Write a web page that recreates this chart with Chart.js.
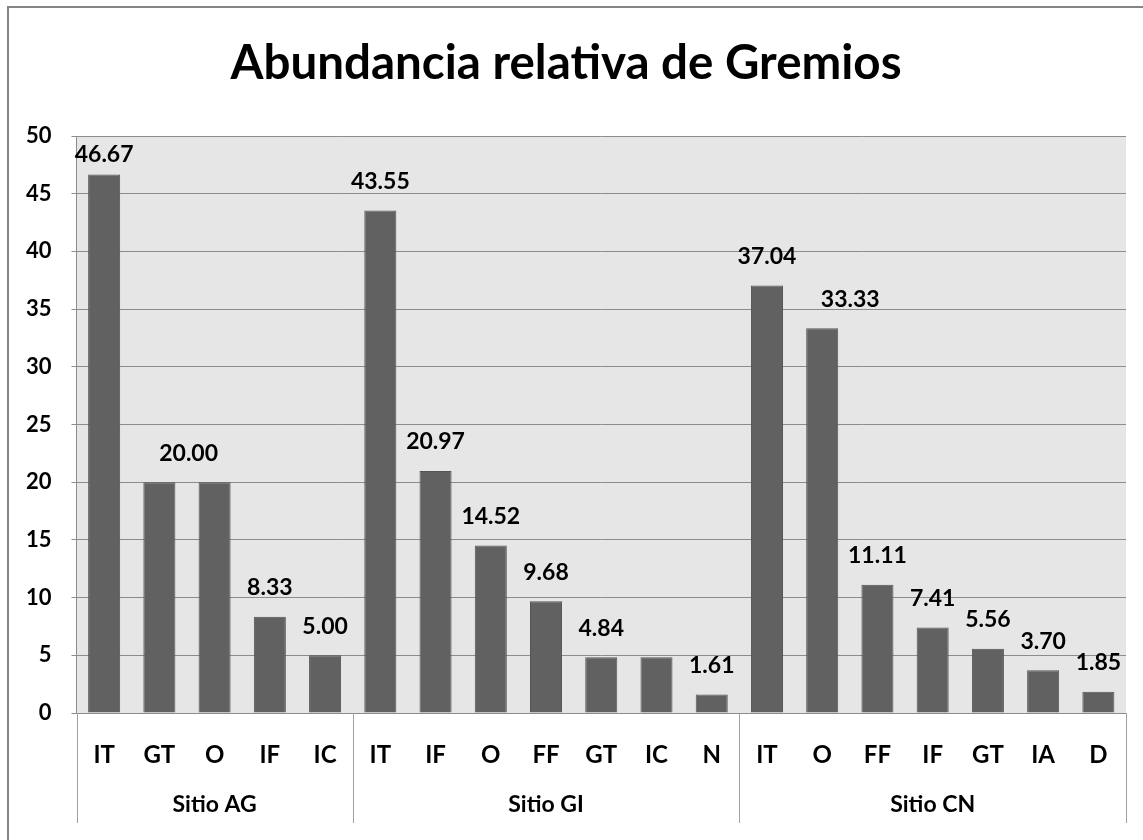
<!DOCTYPE html>
<html>
<head>
<meta charset="utf-8">
<script src="https://cdn.jsdelivr.net/npm/chart.js@4/dist/chart.umd.min.js"></script>
<style>
  html, body { margin: 0; padding: 0; background: #fff; }
</style>
</head>
<body>
<canvas id="gremios" width="1143" height="840"></canvas>
<script>
// DATOS

var gremios = ['IT', 'GT', 'O', 'IF', 'IC',
               'IT', 'IF', 'O', 'FF', 'GT', 'IC', 'N',
               'IT', 'O', 'FF', 'IF', 'GT', 'IA', 'D'];

var abundancia = [46.67, 20.00, 20.00, 8.33, 5.00,
                  43.55, 20.97, 14.52, 9.68, 4.84, 4.84, 1.61,
                  37.04, 33.33, 11.11, 7.41, 5.56, 3.70, 1.85];

var sitios = ['Sitio AG', 'Sitio GI', 'Sitio CN'];
var barrasPorSitio = [5, 7, 7];

var yTicks = [0, 5, 10, 15, 20, 25, 30, 35, 40, 45, 50];

// etiquetas que Excel ocultó o desplazó
var etiquetasOcultas = [1, 10];
var desplazamientoX = { 2: -26, 13: 28 };

var FONT = 'Lato, "Open Sans", sans-serif';

// marco del gráfico y fondo gris del área
var marco = {
    id: 'marco',
    beforeDraw: function (chart) {
        var c = chart.ctx;
        var a = chart.chartArea;
        c.save();
        c.fillStyle = '#fff';
        c.fillRect(0, 0, chart.width, chart.height);
        c.strokeStyle = '#858585';
        c.lineWidth = 2;
        c.strokeRect(8, 7, chart.width + 20, chart.height + 20);
        c.fillStyle = '#e6e6e6';
        c.fillRect(a.left, a.top, a.right - a.left, a.bottom - a.top);
        c.restore();
    }
};

// separadores y nombres de sitios bajo el eje
var grupos = {
    id: 'grupos',
    afterDraw: function (chart) {
        var c = chart.ctx;
        var area = chart.chartArea;
        var step = (area.right - area.left) / gremios.length;
        c.save();
        c.strokeStyle = '#a0a0a0';
        c.lineWidth = 1;
        c.fillStyle = '#000';
        c.font = 'bold 23px ' + FONT;
        c.textAlign = 'center';
        c.textBaseline = 'middle';
        var start = 0;
        for (var i = 0; i <= barrasPorSitio.length; i++) {
            var xs = Math.round(area.left + start * step) + 0.5;
            c.beginPath();
            c.moveTo(xs, area.bottom);
            c.lineTo(xs, area.bottom + 110);
            c.stroke();
            if (i < barrasPorSitio.length) {
                var mid = area.left + (start + barrasPorSitio[i] / 2) * step;
                c.fillText(sitios[i], mid, area.bottom + 92);
                start += barrasPorSitio[i];
            }
        }
        c.restore();
    }
};

// valores sobre las barras
var valores = {
    id: 'valores',
    afterDatasetsDraw: function (chart) {
        var c = chart.ctx;
        var meta = chart.getDatasetMeta(0);
        var area = chart.chartArea;
        c.save();
        c.fillStyle = '#000';
        c.font = 'bold 23px ' + FONT;
        c.textAlign = 'center';
        c.textBaseline = 'middle';
        meta.data.forEach(function (bar, i) {
            if (etiquetasOcultas.indexOf(i) !== -1) return;
            var y = Math.max(bar.y - 29, area.top + 19);
            var dx = desplazamientoX[i] || 0;
            c.fillText(abundancia[i].toFixed(2), bar.x + dx, y);
        });
        c.restore();
    }
};

var ctx = document.getElementById('gremios');

var grafico = new Chart(ctx, {
    type: 'bar',
    data: {
        labels: gremios,
        datasets: [{
            data: abundancia,
            backgroundColor: '#616161',
            borderColor: '#555555',
            borderWidth: 1,
            borderSkipped: 'bottom',
            barPercentage: 0.58,
            categoryPercentage: 1
        }]
    },
    options: {
        responsive: false,
        animation: false,
        devicePixelRatio: 1,
        layout: { padding: { left: 6, right: 17, top: 0, bottom: 0 } },
        plugins: {
            legend: { display: false },
            tooltip: { enabled: false },
            title: {
                display: true,
                text: 'Abundancia relativa de Gremios',
                color: '#000',
                font: { family: FONT, size: 47.5, weight: 'bold' },
                padding: { top: 35, bottom: 44 }
            }
        },
        scales: {
            x: {
                grid: { display: false },
                border: { display: true, color: '#8c8c8c' },
                ticks: {
                    color: '#000',
                    font: { family: FONT, size: 24, weight: 'bold' },
                    padding: 20,
                    maxRotation: 0,
                    autoSkip: false
                },
                afterFit: function (s) { s.height = 127; }
            },
            y: {
                min: 0,
                max: 50,
                afterBuildTicks: function (s) {
                    var t = [];
                    for (var v = 0; v <= 50; v += 2.5) t.push({ value: v });
                    s.ticks = t;
                },
                border: { display: true, color: '#8c8c8c' },
                grid: {
                    color: function (c) {
                        return yTicks.indexOf(c.tick.value) !== -1 ? '#8c8c8c' : '#b9b9b9';
                    },
                    tickLength: 5,
                    lineWidth: 1
                },
                ticks: {
                    color: '#000',
                    font: { family: FONT, size: 22, weight: 'bold' },
                    padding: 20,
                    callback: function (v) {
                        return yTicks.indexOf(v) !== -1 ? v : '';
                    }
                }
            }
        }
    },
    plugins: [marco, grupos, valores]
});
</script>
</body>
</html>
